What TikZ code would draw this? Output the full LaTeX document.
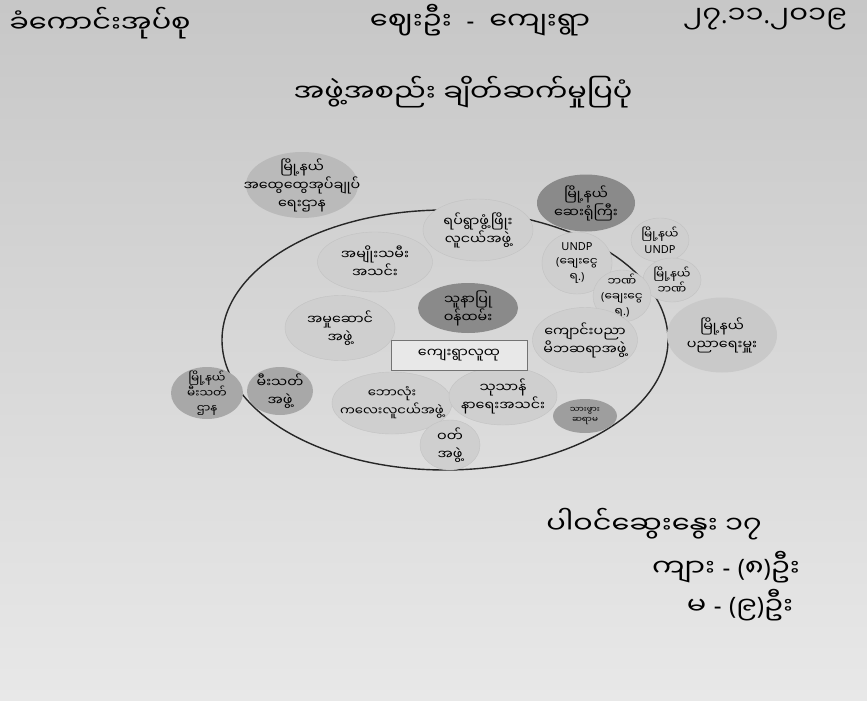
\documentclass[tikz,border=0pt]{standalone}
\usepackage{fontspec}
\setmainfont{Noto Sans}
\newfontfamily\mmfont[Script=Myanmar, FakeStretch=1.1]{Noto Sans Myanmar UI}
\newfontfamily\mmwide[Script=Myanmar, FakeStretch=1.2]{Noto Sans Myanmar UI}
\newcommand\pdot{{\rmfamily.}}
\newcommand\pdash{{\rmfamily-}}
\newcommand\lpar{{\rmfamily(}}
\newcommand\rpar{{\rmfamily)}}
\usepackage{tikz}
\usetikzlibrary{positioning, shapes.geometric}

\begin{document}
\begin{tikzpicture}[
    x=1pt, y=-1pt,
    node distance=8pt and 0pt,
    blob/.style={ellipse, draw=black!24, fill=black!19, inner sep=0pt},
    farblob/.style={blob, draw=none, fill=black!21},
    darkblob/.style={blob, draw=none, fill=black!46},
    midblob/.style={blob, draw=none, fill=black!34},
    txt/.style={align=center, inner sep=0pt, font=\mmfont\fontsize{13}{18}\selectfont},
    small/.style={txt, font=\mmfont\fontsize{11}{15}\selectfont},
    hdr/.style={inner sep=0pt, font=\mmwide\fontsize{24}{28}\selectfont},
    ring/.style={ellipse, draw=black!85, line width=1.4pt, minimum width=446pt,
                 minimum height=260pt, inner sep=0pt},
    commbox/.style={draw=black!55, fill=black!9, minimum width=136pt, minimum height=30pt,
                    inner sep=0pt, font=\mmfont\fontsize{13}{14}\selectfont},
]
% paper
\fill[top color=black!22, bottom color=black!9] (0,0) rectangle (867,701);
\useasboundingbox (0,0) rectangle (867,701);

% header
\node[hdr] (tract) at (100,23) {ခံကောင်းအုပ်စု};
\node[hdr] (village) at (480,20) {ဈေးဦး \ \pdash\ \ ကျေးရွာ};
\node[hdr] (date) at (765,19) {၂၇\pdot၁၁\pdot ၂၀၁၉};
\node[hdr] (title) at (463,92) {အဖွဲ့အစည်း ချိတ်ဆက်မှုပြပုံ};

% village boundary
\node[ring] (ring) at (445,340) {};

% township level (outside the ring)
\node[farblob, fill=black!27, minimum width=112pt, minimum height=66pt,
      label={[txt]center:{မြို့နယ်\\အထွေထွေအုပ်ချုပ်\\ရေးဌာန}}] (gadtsp) at (302,185) {};
\node[darkblob, minimum width=98pt, minimum height=57pt,
      label={[txt]center:{မြို့နယ်\\ဆေးရုံကြီး}}] (hosptsp) at (586,203) {};
\node[blob, minimum width=58pt, minimum height=44pt,
      label={[small]center:{မြို့နယ်\\\rmfamily UNDP}}] (undptsp) at (660,240) {};
\node[blob, minimum width=58pt, minimum height=44pt,
      label={[small]center:{မြို့နယ်\\ဘဏ်}}] (banktsp) at (672,280) {};
\node[farblob, minimum width=110pt, minimum height=75pt,
      label={[txt]center:{မြို့နယ်\\ပညာရေးမှူး}}] (edutsp) at (722,335) {};
\node[midblob, minimum width=72pt, minimum height=52pt,
      label={[small]center:{မြို့နယ်\\မီးသတ်\\ဌာန}}] (firetsp) at (207,393) {};

% village level (inside the ring)
\node[blob, minimum width=115pt, minimum height=60pt,
      label={[txt]center:{အမျိုးသမီး\\အသင်း}}] (women) at (375,262) {};
\node[blob, minimum width=110pt, minimum height=62pt,
      label={[txt]center:{ရပ်ရွာဖွံ့ဖြိုး\\လူငယ်အဖွဲ့}}] (youth) at (478,230) {};
\node[blob, minimum width=70pt, minimum height=62pt,
      label={[small]center:{\rmfamily UNDP\\\lpar ချေးငွေ\\ရ\pdot\rpar}}] (undpin) at (577,263) {};
\node[blob, minimum width=58pt, minimum height=52pt,
      label={[small]center:{ဘဏ်\\\lpar ချေးငွေ\\ရ\pdot\rpar}}] (bankin) at (622,296) {};
\node[blob, minimum width=110pt, minimum height=65pt,
      label={[txt]center:{အမှုဆောင်\\အဖွဲ့}}] (exec) at (340,328) {};
\node[darkblob, minimum width=100pt, minimum height=50pt,
      label={[txt]center:{သူနာပြု\\ဝန်ထမ်း}}] (nurse) at (468,308) {};
\node[blob, minimum width=105pt, minimum height=65pt,
      label={[txt]center:{ကျောင်းပညာ\\မိဘဆရာအဖွဲ့}}] (pta) at (585,340) {};
\node[midblob, minimum width=66pt, minimum height=48pt,
      label={[txt]center:{မီးသတ်\\အဖွဲ့}}] (fire) at (280,391) {};
\node[blob, minimum width=120pt, minimum height=62pt,
      label={[txt, font=\mmfont\fontsize{12}{18}\selectfont]center:{ဘောလုံး\\ကလေးလူငယ်အဖွဲ့}}] (kids) at (392,403) {};
\node[blob, minimum width=108pt, minimum height=58pt,
      label={[txt]center:{သုသာန်\\နာရေးအသင်း}}] (funeral) at (503,396) {};
\node[darkblob, fill=black!38, minimum width=64pt, minimum height=34pt,
      label={[txt, font=\mmfont\fontsize{8}{10}\selectfont]center:{သားဖွား\\ဆရာမ}}] (midwife) at (585,416) {};
\node[blob, minimum width=60pt, minimum height=50pt,
      label={[txt]center:{ဝတ်\\အဖွဲ့}}] (wat) at (450,445) {};
\node[commbox] (community) at (459,355) {ကျေးရွာလူထု};

% participants
\node[hdr] (joined) at (654,524) {ပါဝင်ဆွေးနွေး ၁၇};
\node[hdr] (male) at (726,567) {ကျား \pdash\ \lpar ၈\rpar ဦး};
\node[hdr] (female) at (740,605) {မ \pdash\ \lpar ၉\rpar ဦး};

\end{tikzpicture}
\end{document}
